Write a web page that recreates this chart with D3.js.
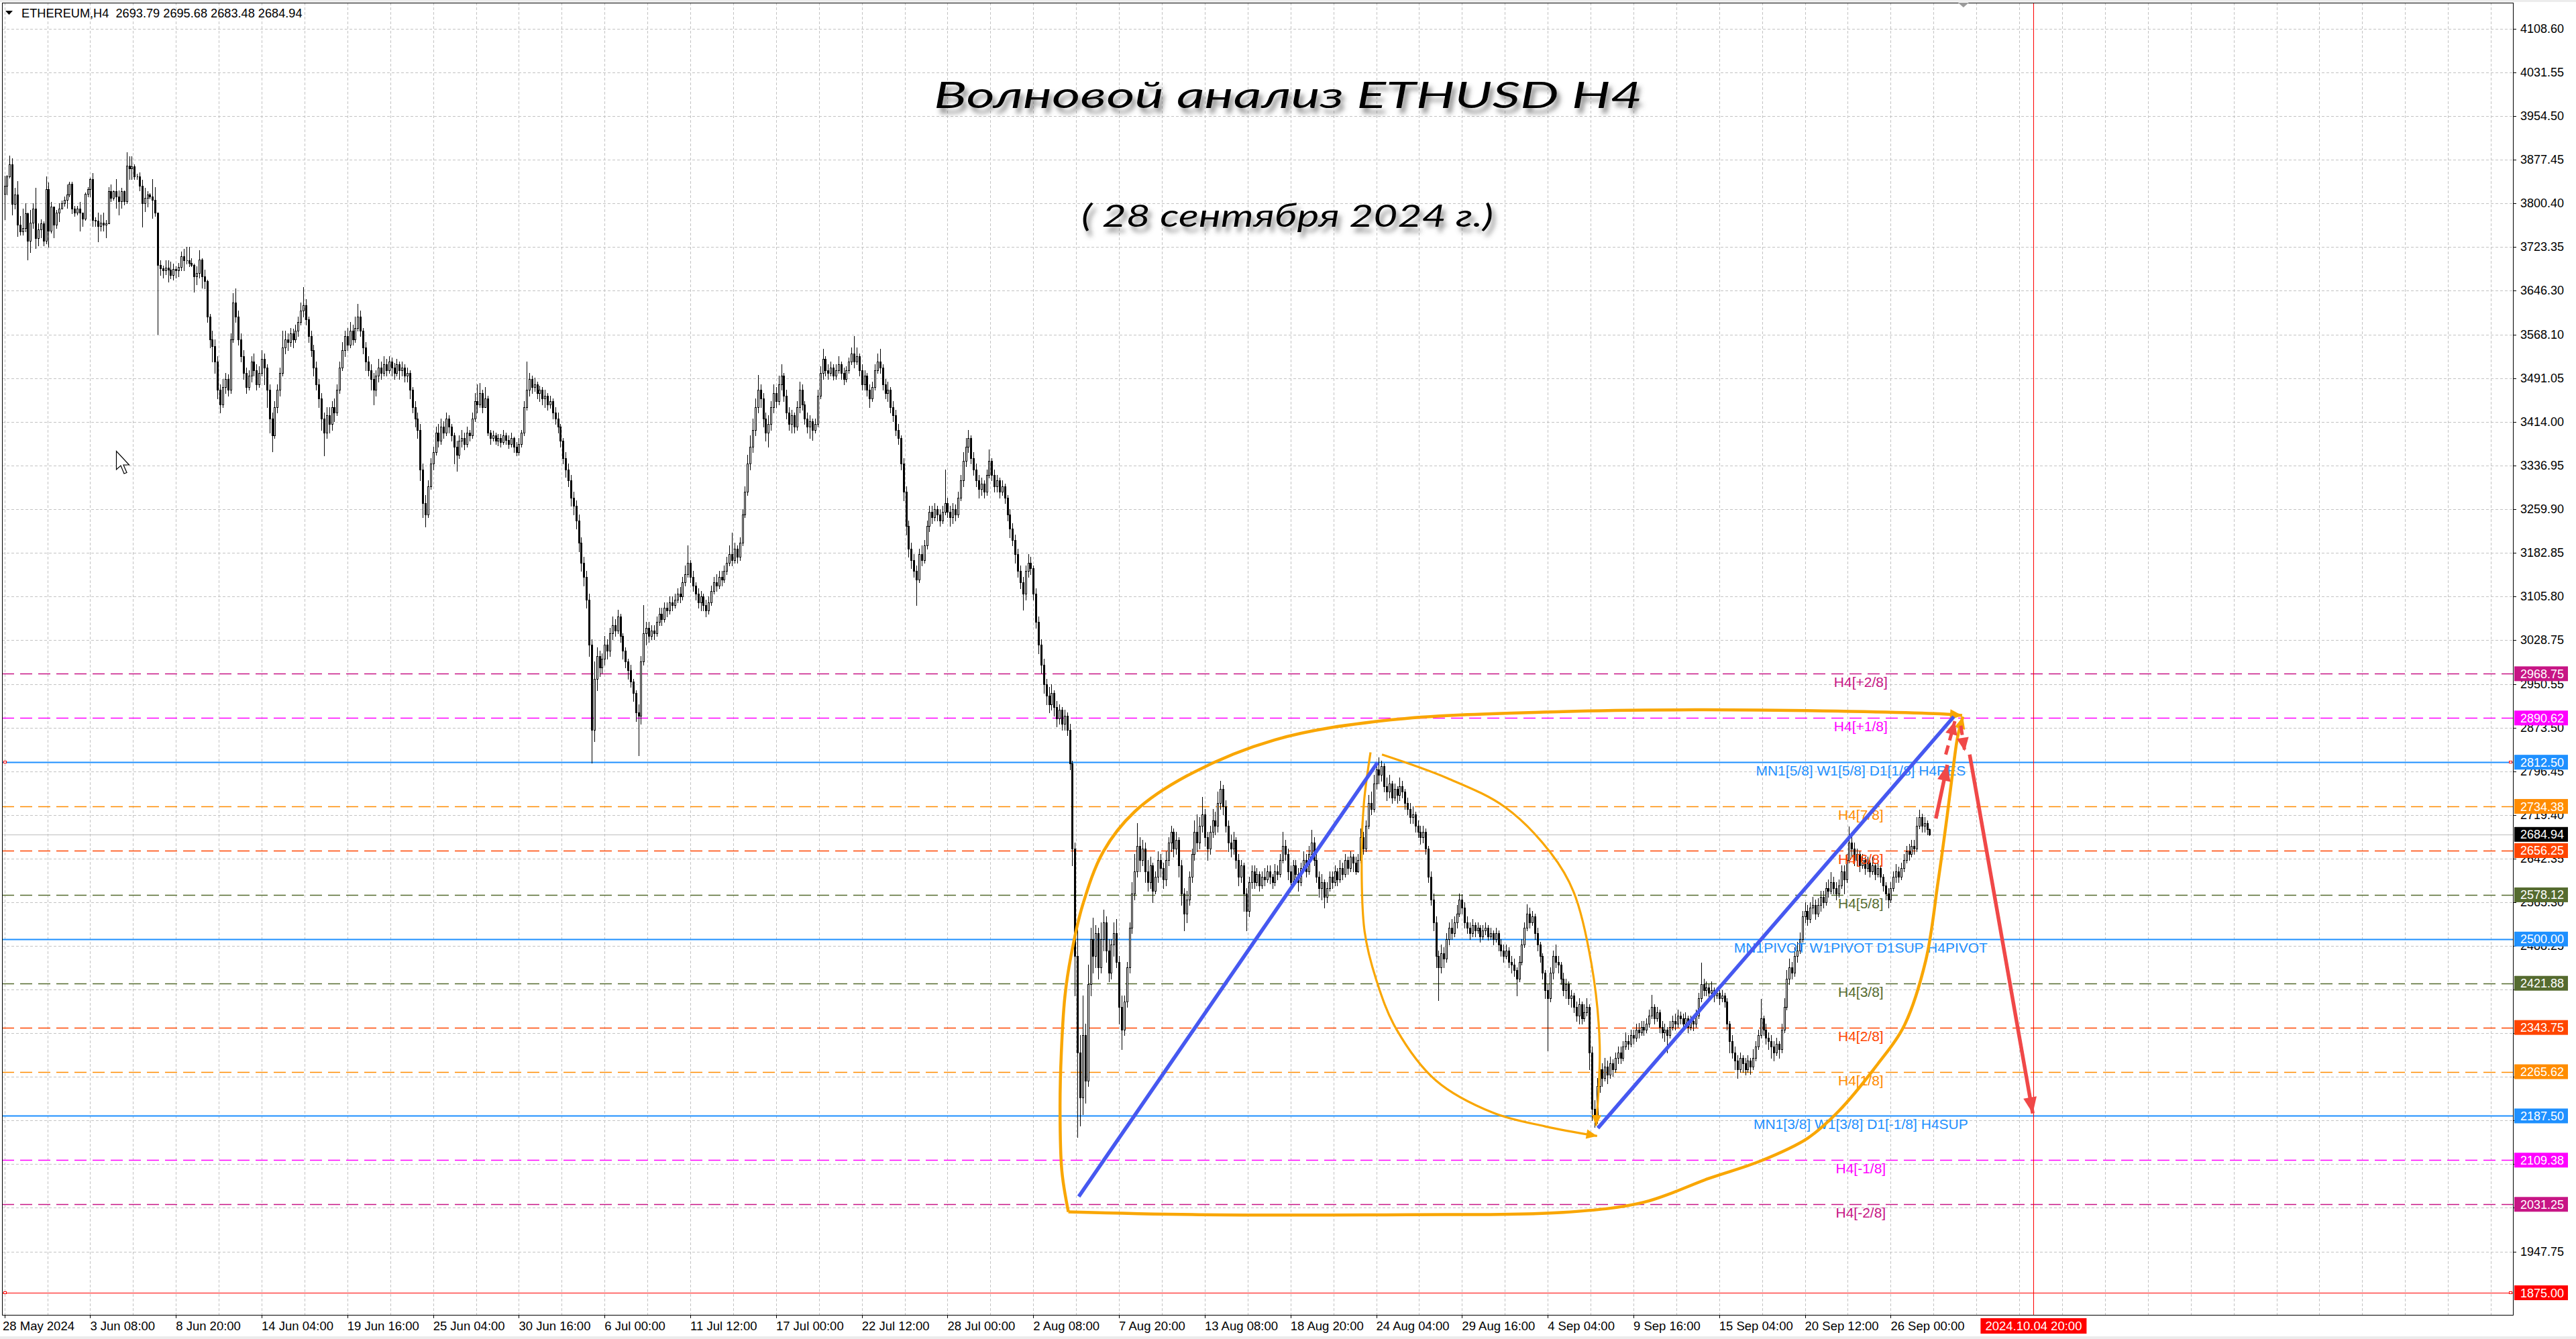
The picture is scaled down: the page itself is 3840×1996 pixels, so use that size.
<!DOCTYPE html>
<html><head><meta charset="utf-8">
<script src="https://cdn.jsdelivr.net/npm/d3@7"></script>
<style>
html,body{margin:0;padding:0;background:#fff;}
svg{display:block;}
</style></head><body>
<svg id="c" width="3840" height="1996"></svg>
<script>
// ---------------- DATA (H4 bars) ----------------
const firstOpen = 3817;
const closes = [
3831,3847,3869,3799,3815,3762,3750,3756,3782,3734,
3766,3790,3738,3754,3764,3734,3825,3752,3794,3762,
3784,3790,3800,3806,3815,3834,3791,3784,3790,3784,
3773,3817,3825,3843,3770,3769,3760,3766,3762,3765,
3821,3810,3821,3812,3804,3821,3804,3866,3862,3865,
3848,3847,3831,3800,3810,3816,3812,3806,3784,3691,
3685,3681,3686,3683,3673,3684,3681,3687,3707,3699,
3699,3695,3691,3671,3677,3700,3671,3663,3600,3560,
3548,3520,3470,3445,3475,3490,3470,3560,3625,3600,
3560,3530,3500,3475,3495,3520,3505,3480,3500,3525,
3510,3470,3420,3390,3440,3470,3500,3545,3560,3555,
3570,3560,3575,3590,3610,3620,3595,3565,3540,3510,
3480,3455,3420,3395,3425,3410,3440,3430,3470,3510,
3540,3565,3550,3575,3560,3580,3600,3575,3545,3520,
3505,3490,3470,3495,3510,3500,3515,3505,3520,3510,
3500,3515,3505,3510,3495,3500,3470,3440,3420,3400,
3330,3270,3250,3300,3340,3360,3395,3380,3405,3395,
3420,3405,3390,3370,3355,3380,3385,3375,3395,3390,
3420,3450,3445,3465,3440,3455,3395,3385,3390,3380,
3385,3378,3390,3382,3375,3385,3370,3360,3375,3395,
3440,3470,3490,3475,3480,3465,3470,3455,3460,3445,
3450,3430,3420,3405,3380,3350,3330,3310,3280,3265,
3240,3200,3165,3140,3100,3020,2870,2960,3000,2980,
2995,3020,3010,3040,3055,3045,3070,3035,3010,2990,
2975,2955,2935,2900,2895,2990,3040,3050,3035,3045,
3040,3060,3075,3065,3085,3080,3095,3090,3100,3110,
3105,3130,3145,3165,3140,3125,3110,3095,3105,3090,
3080,3095,3115,3130,3125,3140,3135,3150,3165,3180,
3170,3190,3175,3200,3250,3290,3340,3370,3400,3440,
3470,3455,3420,3395,3410,3440,3465,3450,3480,3495,
3460,3430,3410,3425,3405,3440,3470,3445,3420,3405,
3415,3400,3410,3460,3500,3525,3505,3500,3510,3495,
3505,3515,3500,3490,3505,3520,3535,3520,3530,3505,
3480,3495,3470,3455,3475,3505,3520,3510,3480,3465,
3470,3440,3425,3400,3385,3340,3290,3230,3190,3170,
3150,3135,3180,3170,3195,3230,3255,3245,3260,3250,
3240,3255,3270,3255,3245,3260,3250,3280,3310,3345,
3370,3385,3350,3330,3310,3295,3305,3290,3320,3345,
3320,3300,3310,3290,3300,3280,3250,3225,3205,3180,
3150,3130,3110,3150,3165,3155,3110,3060,3020,2985,
2950,2930,2915,2935,2910,2890,2905,2880,2895,2870,
2810,2660,2470,2300,2220,2330,2250,2420,2500,2470,
2510,2450,2500,2530,2480,2440,2490,2510,2460,2380,
2340,2390,2450,2520,2580,2620,2665,2640,2660,2620,
2600,2630,2585,2610,2640,2625,2605,2640,2670,2690,
2660,2675,2630,2580,2545,2570,2610,2650,2690,2670,
2700,2720,2680,2660,2690,2710,2700,2740,2765,2735,
2700,2670,2660,2675,2640,2610,2630,2580,2550,2600,
2620,2600,2615,2595,2610,2605,2620,2610,2600,2620,
2615,2640,2665,2650,2620,2600,2630,2615,2600,2625,
2640,2620,2650,2670,2640,2610,2590,2600,2575,2590,
2610,2600,2620,2605,2625,2615,2640,2625,2645,2635,
2620,2640,2680,2660,2700,2740,2730,2775,2800,2790,
2805,2770,2760,2775,2750,2765,2755,2770,2760,2740,
2730,2715,2720,2700,2690,2680,2690,2660,2610,2570,
2530,2470,2450,2475,2465,2500,2520,2510,2530,2545,
2570,2555,2530,2520,2510,2525,2515,2520,2505,2515,
2520,2505,2510,2500,2510,2490,2480,2470,2480,2460,
2455,2445,2430,2460,2490,2520,2545,2530,2540,2510,
2490,2470,2440,2410,2395,2440,2470,2460,2455,2430,
2410,2420,2395,2400,2380,2365,2385,2360,2370,2380,
2300,2200,2185,2240,2270,2255,2275,2260,2280,2270,
2290,2300,2290,2310,2320,2315,2330,2325,2340,2335,
2345,2340,2350,2365,2380,2360,2370,2345,2335,2340,
2330,2345,2355,2350,2365,2360,2350,2360,2345,2355,
2350,2365,2395,2420,2410,2415,2405,2410,2400,2405,
2395,2400,2390,2350,2320,2300,2285,2270,2290,2280,
2270,2285,2275,2290,2310,2330,2360,2340,2325,2320,
2310,2300,2315,2305,2340,2380,2430,2450,2440,2470,
2480,2500,2540,2550,2535,2555,2560,2545,2560,2575,
2565,2590,2585,2600,2590,2580,2595,2620,2605,2640,
2670,2660,2640,2650,2630,2640,2625,2635,2620,2630,
2615,2625,2610,2595,2580,2570,2590,2610,2620,2610,
2625,2640,2655,2650,2665,2660,2700,2715,2700,2705,
2693.79,2684.94];
const highs = [
3849,3850,3884,3879,3827,3839,3778,3790,3800,3784,
3788,3800,3827,3764,3772,3768,3847,3837,3802,3790,
3788,3800,3805,3812,3833,3838,3838,3795,3795,3803,
3784,3819,3829,3845,3853,3775,3784,3780,3784,3770,
3829,3833,3823,3843,3823,3827,3823,3890,3883,3883,
3869,3852,3855,3841,3827,3821,3818,3843,3829,3784,
3699,3690,3699,3699,3697,3693,3689,3695,3715,3719,
3723,3723,3703,3693,3689,3717,3703,3683,3665,3605,
3575,3560,3530,3480,3490,3500,3498,3570,3641,3650,
3610,3570,3540,3510,3505,3530,3535,3515,3512,3540,
3535,3515,3480,3430,3450,3480,3510,3575,3575,3570,
3580,3578,3585,3600,3625,3652,3630,3600,3575,3550,
3520,3490,3465,3430,3440,3440,3450,3455,3480,3520,
3555,3575,3580,3590,3585,3600,3622,3610,3580,3555,
3530,3515,3500,3505,3525,3520,3530,3525,3530,3528,
3518,3525,3520,3520,3515,3510,3505,3475,3450,3430,
3410,3340,3285,3310,3350,3370,3405,3410,3420,3415,
3430,3425,3410,3395,3380,3390,3400,3395,3405,3400,
3430,3465,3480,3482,3470,3475,3460,3400,3398,3395,
3392,3392,3400,3395,3390,3395,3388,3378,3385,3400,
3450,3520,3500,3495,3492,3485,3478,3475,3470,3465,
3460,3455,3440,3430,3410,3385,3360,3340,3320,3290,
3275,3250,3210,3175,3150,3110,3030,2990,3015,3010,
3005,3035,3030,3050,3070,3065,3082,3075,3040,3015,
2995,2985,2960,2940,2915,3000,3090,3060,3060,3055,
3055,3070,3085,3085,3095,3095,3105,3105,3110,3120,
3122,3140,3160,3195,3170,3150,3130,3120,3115,3110,
3100,3105,3125,3140,3145,3150,3150,3160,3175,3195,
3218,3200,3195,3210,3260,3300,3355,3390,3420,3455,
3497,3480,3465,3430,3425,3450,3480,3475,3495,3516,
3500,3470,3440,3435,3430,3450,3485,3480,3450,3430,
3425,3420,3420,3470,3512,3543,3530,3515,3520,3515,
3515,3530,3520,3510,3512,3528,3545,3565,3545,3535,
3515,3505,3500,3480,3485,3515,3535,3543,3515,3490,
3485,3475,3450,3435,3410,3390,3350,3300,3240,3200,
3180,3160,3190,3195,3205,3240,3265,3265,3270,3265,
3260,3265,3330,3280,3265,3270,3268,3290,3320,3360,
3385,3400,3390,3360,3340,3320,3315,3310,3330,3365,
3350,3330,3320,3315,3310,3305,3285,3260,3235,3215,
3190,3160,3140,3160,3180,3175,3160,3120,3070,3030,
2995,2960,2945,2950,2940,2920,2915,2910,2905,2900,
2880,2815,2670,2520,2330,2400,2350,2455,2520,2538,
2525,2520,2530,2552,2540,2500,2500,2530,2535,2470,
2400,2400,2460,2530,2600,2650,2705,2680,2675,2670,
2640,2645,2635,2620,2655,2650,2635,2655,2680,2700,
2695,2690,2680,2640,2590,2585,2620,2660,2710,2720,
2715,2751,2730,2690,2700,2730,2725,2760,2780,2772,
2745,2710,2685,2690,2680,2650,2640,2635,2590,2610,
2630,2630,2625,2620,2620,2625,2630,2630,2615,2632,
2630,2650,2690,2675,2660,2630,2640,2640,2625,2635,
2655,2650,2665,2693,2680,2650,2620,2615,2605,2600,
2620,2620,2630,2625,2640,2635,2650,2645,2655,2650,
2645,2650,2695,2690,2710,2755,2760,2790,2812,2821,
2815,2810,2785,2790,2780,2775,2770,2785,2780,2765,
2750,2740,2735,2725,2710,2700,2700,2695,2665,2620,
2580,2540,2480,2490,2485,2510,2530,2535,2540,2560,
2580,2579,2565,2540,2530,2535,2530,2530,2525,2525,
2530,2525,2520,2515,2520,2515,2500,2490,2490,2485,
2470,2465,2450,2470,2500,2530,2561,2555,2550,2545,
2520,2495,2475,2445,2420,2450,2480,2490,2470,2460,
2440,2430,2425,2410,2405,2390,2395,2390,2385,2395,
2385,2310,2215,2255,2290,2280,2290,2285,2292,2288,
2300,2310,2310,2320,2335,2330,2340,2340,2350,2352,
2355,2355,2360,2375,2401,2385,2380,2375,2355,2350,
2345,2355,2365,2368,2375,2372,2368,2370,2365,2365,
2362,2375,2405,2458,2430,2425,2420,2425,2415,2415,
2410,2410,2405,2395,2355,2330,2310,2295,2300,2295,
2290,2295,2290,2305,2320,2340,2394,2365,2350,2335,
2330,2320,2325,2320,2350,2395,2445,2465,2460,2485,
2495,2512,2550,2565,2560,2565,2575,2570,2572,2585,
2585,2600,2605,2618,2610,2600,2605,2630,2630,2650,
2699,2685,2670,2660,2655,2650,2645,2645,2640,2645,
2635,2635,2630,2615,2600,2590,2600,2620,2632,2628,
2635,2650,2665,2668,2675,2675,2715,2728,2722,2715,
2710,2695.68];
const lows = [
3772,3815,3845,3780,3790,3742,3744,3744,3750,3701,
3713,3756,3721,3725,3740,3725,3729,3723,3748,3740,
3756,3768,3790,3795,3792,3812,3782,3778,3780,3752,
3760,3770,3812,3812,3760,3760,3733,3752,3752,3740,
3764,3804,3806,3792,3780,3792,3798,3800,3843,3843,
3843,3843,3823,3758,3786,3794,3808,3774,3778,3569,
3673,3669,3675,3661,3667,3665,3669,3671,3681,3681,
3693,3689,3689,3644,3657,3669,3651,3649,3590,3545,
3520,3500,3455,3430,3440,3465,3460,3465,3555,3590,
3550,3520,3490,3465,3470,3485,3495,3470,3475,3495,
3480,3440,3395,3362,3385,3430,3460,3495,3535,3540,
3548,3545,3555,3565,3585,3600,3585,3555,3530,3495,
3470,3440,3400,3354,3385,3395,3400,3415,3425,3465,
3505,3530,3540,3545,3550,3555,3575,3565,3535,3505,
3495,3470,3444,3460,3485,3490,3495,3495,3500,3495,
3490,3495,3490,3495,3485,3485,3455,3430,3405,3385,
3310,3245,3229,3245,3295,3330,3355,3370,3375,3385,
3390,3395,3380,3340,3327,3350,3370,3365,3370,3380,
3385,3415,3430,3440,3430,3440,3390,3375,3380,3375,
3372,3370,3375,3375,3368,3370,3360,3354,3355,3370,
3390,3435,3460,3465,3468,3455,3450,3445,3440,3435,
3438,3420,3410,3395,3370,3340,3316,3300,3265,3250,
3225,3185,3150,3125,3085,3000,2812,2850,2940,2965,
2970,2985,2995,3000,3030,3035,3040,3025,2995,2980,
2960,2945,2920,2885,2825,2880,2985,3020,3025,3030,
3030,3035,3055,3055,3060,3070,3075,3080,3085,3095,
3095,3100,3125,3140,3130,3115,3100,3085,3080,3080,
3070,3075,3090,3110,3115,3120,3125,3130,3145,3160,
3160,3165,3165,3170,3195,3245,3285,3330,3360,3390,
3430,3440,3405,3380,3370,3400,3430,3440,3445,3470,
3450,3420,3400,3395,3395,3400,3430,3435,3410,3395,
3385,3382,3395,3405,3455,3490,3495,3490,3495,3488,
3490,3500,3490,3480,3485,3500,3515,3510,3515,3495,
3470,3470,3460,3440,3450,3470,3500,3500,3470,3455,
3450,3430,3415,3390,3375,3330,3275,3215,3175,3155,
3140,3090,3130,3160,3165,3190,3220,3235,3240,3240,
3230,3235,3250,3245,3230,3235,3240,3245,3275,3300,
3335,3360,3340,3320,3300,3280,3285,3280,3285,3315,
3310,3290,3290,3280,3285,3270,3240,3210,3195,3165,
3140,3120,3082,3100,3140,3145,3100,3050,3005,2970,
2935,2915,2900,2905,2895,2875,2880,2870,2870,2860,
2800,2630,2400,2150,2170,2190,2210,2240,2400,2440,
2450,2430,2440,2480,2460,2425,2430,2470,2450,2350,
2305,2330,2380,2440,2510,2570,2610,2620,2630,2600,
2585,2590,2565,2580,2600,2610,2590,2595,2630,2655,
2645,2650,2610,2560,2515,2530,2560,2600,2640,2655,
2660,2690,2665,2640,2650,2680,2685,2690,2730,2720,
2690,2655,2645,2650,2625,2595,2600,2550,2515,2540,
2590,2590,2595,2585,2590,2595,2600,2598,2590,2595,
2605,2610,2635,2640,2605,2590,2595,2600,2585,2595,
2620,2610,2615,2645,2630,2600,2575,2570,2555,2565,
2585,2590,2595,2595,2600,2605,2610,2615,2620,2620,
2615,2618,2635,2650,2655,2695,2720,2725,2765,2775,
2780,2760,2745,2750,2740,2745,2740,2745,2750,2730,
2720,2705,2705,2690,2680,2668,2670,2650,2600,2560,
2515,2450,2392,2440,2450,2460,2490,2500,2505,2520,
2540,2545,2520,2510,2500,2505,2505,2510,2495,2500,
2508,2498,2500,2490,2495,2480,2470,2460,2465,2450,
2440,2435,2400,2425,2455,2485,2515,2520,2525,2500,
2480,2460,2430,2395,2303,2390,2430,2450,2440,2420,
2400,2395,2385,2380,2370,2355,2350,2350,2355,2365,
2270,2180,2168,2175,2230,2240,2250,2245,2255,2258,
2265,2280,2280,2285,2305,2305,2310,2315,2320,2325,
2330,2330,2335,2345,2360,2350,2355,2335,2325,2320,
2300,2325,2340,2340,2345,2350,2340,2345,2335,2340,
2338,2345,2360,2390,2400,2400,2395,2400,2390,2395,
2385,2390,2380,2340,2300,2290,2270,2254,2265,2265,
2260,2265,2262,2270,2285,2305,2325,2330,2315,2305,
2290,2285,2295,2290,2300,2335,2375,2420,2430,2435,
2460,2475,2495,2530,2525,2530,2545,2535,2540,2550,
2555,2560,2575,2580,2580,2570,2575,2590,2580,2600,
2635,2645,2630,2630,2620,2625,2615,2620,2610,2615,
2605,2610,2600,2585,2570,2555,2565,2585,2600,2600,
2605,2620,2635,2640,2645,2650,2655,2695,2690,2690,
2685,2683.48];

const priceTicks = [4108.60,4031.55,3954.50,3877.45,3800.40,3723.35,3646.30,3568.10,3491.05,3414.00,
  3336.95,3259.90,3182.85,3105.80,3028.75,2950.55,2873.50,2796.45,2719.40,2642.35,2565.30,2488.25,
  2411.20,2334.15,2257.10,2180.05,2103.00,2025.95,1947.75];
// tick labels that MT4 leaves hidden behind the coloured level boxes
const tickHidden = [2411.20,2334.15,2257.10,2180.05,2103.00,2025.95];
const timeLabels = ["28 May 2024","3 Jun 08:00","8 Jun 20:00","14 Jun 04:00","19 Jun 16:00","25 Jun 04:00",
  "30 Jun 16:00","6 Jul 00:00","11 Jul 12:00","17 Jul 00:00","22 Jul 12:00","28 Jul 00:00","2 Aug 08:00",
  "7 Aug 20:00","13 Aug 08:00","18 Aug 20:00","24 Aug 04:00","29 Aug 16:00","4 Sep 04:00","9 Sep 16:00",
  "15 Sep 04:00","20 Sep 12:00","26 Sep 00:00"];
const barsPerLabel = 33;

const levelPrices = [2968.75,2890.62,2812.50,2734.38,2656.25,2578.12,2500.00,2421.88,2343.75,2265.62,2187.50,2109.38,2031.25];
const levelNames  = ["H4[+2/8]","H4[+1/8]","MN1[5/8] W1[5/8] D1[1/8] H4RES","H4[7/8]","H4[6/8]","H4[5/8]",
  "MN1PIVOT W1PIVOT D1SUP H4PIVOT","H4[3/8]","H4[2/8]","H4[1/8]","MN1[3/8] W1[3/8] D1[-1/8] H4SUP","H4[-1/8]","H4[-2/8]"];
const levelColors = ["#C71585","#FF00FF","#1E90FF","#FF8C00","#FF4500","#556B2F","#1E90FF","#556B2F","#FF4500","#FF8C00","#1E90FF","#FF00FF","#C71585"];
const levelSolid  = [false,false,true,false,false,false,true,false,false,false,true,false,false];
const stopPrice = 1875.00;
const lastPrice = 2684.94;
const markerBar = 781, markerLabel = "2024.10.04 20:00";
const headerText = "ETHEREUM,H4  2693.79 2695.68 2683.48 2684.94";
const titleText = "Волновой анализ ETHUSD H4";
const subtitleText = "( 28 сентября 2024 г.)";

// annotation paths as [bar, price]
const outerTop = [[409.5,2018],[407,2090],[406.3,2200],[406.8,2300],[408.2,2400],[410.5,2470],[415,2560],[423,2655],[435,2725],[455,2788],[489,2852],[533,2887],[600,2902],[644,2905],[700,2903],[745,2898],[753.5,2895]];
const outerBottom = [[409.5,2018],[460,2013],[540,2013],[600,2017],[631,2035],[656,2077],[676,2108],[694,2148],[706,2196],[721,2279],[731,2345],[739.5,2462],[744.2,2600],[747.8,2720],[750,2800],[751.8,2858],[753.8,2893]];
const innerLeft = [[525.8,2830],[523.3,2743],[522.4,2658],[523.5,2514],[528,2428],[535.6,2342],[551,2250],[573,2193],[593,2169],[613,2152]];
const innerRight = [[530.2,2826],[555.5,2784],[577.6,2733],[595.2,2652],[604,2583],[610.8,2457],[614,2313],[612.6,2170]];
const blueLines = [[[413.5,2045],[528.5,2812]], [[613.3,2166],[750.3,2893]]];
const redSolid = [[[743.4,2713],[747.8,2808]], [[756.4,2826],[780.7,2192]]];
const redDashed = [[[747.2,2826],[750.7,2885]], [[753,2877],[754.5,2832]]];

// ---------------- DRAW ----------------
const W = 3840, H = 1996;
const L = 3, T = 4, R = 3746, B = 1960;
const x = d3.scaleLinear().domain([0, 741]).range([6.6, 6.6 + 741 * 3.873]);
const y = d3.scaleLinear().domain([1875, 4108.6]).range([1927.1, 42.7]);
const FONT = "'Liberation Sans', Arial, sans-serif";
const svg = d3.select('#c');

svg.append('rect').attr('width', W).attr('height', H).attr('fill', '#fff');
svg.append('rect').attr('x', 0).attr('y', 0).attr('width', W).attr('height', 3).attr('fill', '#ececec');
svg.append('rect').attr('x', 0).attr('y', 1992).attr('width', W).attr('height', 4).attr('fill', '#ececec');

const defs = svg.append('defs');
defs.append('clipPath').attr('id', 'plot').append('rect')
  .attr('x', L).attr('y', T).attr('width', R - L).attr('height', B - T);
const flt = defs.append('filter').attr('id', 'shadow')
  .attr('x', '-5%').attr('y', '-40%').attr('width', '115%').attr('height', '190%');
flt.append('feDropShadow').attr('dx', 5).attr('dy', 8).attr('stdDeviation', 3.5)
  .attr('flood-color', '#555').attr('flood-opacity', 0.65);

const g = svg.append('g').attr('clip-path', 'url(#plot)');
const cr = v => Math.round(v) + 0.5;

// grid
g.append('g').selectAll('line').data(priceTicks).join('line')
  .attr('x1', L).attr('x2', R).attr('y1', d => cr(y(d))).attr('y2', d => cr(y(d)))
  .attr('stroke', '#c3c3c3').attr('stroke-width', 1).attr('stroke-dasharray', '4,3');
const gridBars = d3.range(0, 1000, barsPerLabel / 2).filter(b => x(b) < R - 2);
g.append('g').selectAll('line').data(gridBars).join('line')
  .attr('x1', d => cr(x(d))).attr('x2', d => cr(x(d))).attr('y1', T).attr('y2', B)
  .attr('stroke', '#c3c3c3').attr('stroke-width', 1).attr('stroke-dasharray', '4,3');

// level lines
levelPrices.forEach((p, i) => {
  g.append('line').attr('x1', L).attr('x2', R).attr('y1', cr(y(p))).attr('y2', cr(y(p)))
    .attr('stroke', levelColors[i]).attr('stroke-width', levelSolid[i] ? 2 : 1.3)
    .attr('stroke-dasharray', levelSolid[i] ? null : '18,9');
});
g.append('line').attr('x1', L).attr('x2', R).attr('y1', cr(y(stopPrice))).attr('y2', cr(y(stopPrice)))
  .attr('stroke', '#FF0000').attr('stroke-width', 1);
g.append('line').attr('x1', L).attr('x2', R).attr('y1', cr(y(lastPrice))).attr('y2', cr(y(lastPrice)))
  .attr('stroke', '#bdbdbd').attr('stroke-width', 1);
// vertical marker line
g.append('line').attr('x1', cr(x(markerBar))).attr('x2', cr(x(markerBar))).attr('y1', T).attr('y2', B)
  .attr('stroke', '#FF0000').attr('stroke-width', 1);

// title
g.append('text').attr('x', 1920).attr('y', 161).attr('text-anchor', 'middle')
  .attr('font-family', "Lato, 'Open Sans', sans-serif").attr('font-style', 'italic').attr('font-size', 55)
  .attr('textLength', 1056).attr('lengthAdjust', 'spacingAndGlyphs')
  .attr('fill', '#000').attr('filter', 'url(#shadow)').text(titleText);
g.append('text').attr('x', 1919).attr('y', 338).attr('text-anchor', 'middle')
  .attr('font-family', "Lato, 'Open Sans', sans-serif").attr('font-style', 'italic').attr('font-size', 46)
  .attr('textLength', 614).attr('lengthAdjust', 'spacingAndGlyphs')
  .attr('fill', '#000').attr('filter', 'url(#shadow)').text(subtitleText);

// candles
const n = Math.min(closes.length, highs.length, lows.length);
const bars = d3.range(n).map(i => {
  const o = i === 0 ? firstOpen : closes[i - 1];
  const c = closes[i];
  return { i, o, c, h: Math.max(highs[i], o, c), l: Math.min(lows[i], o, c) };
});
const cg = g.append('g').attr('shape-rendering', 'crispEdges');
cg.selectAll('line').data(bars).join('line')
  .attr('x1', d => cr(x(d.i))).attr('x2', d => cr(x(d.i)))
  .attr('y1', d => Math.round(y(d.h))).attr('y2', d => Math.round(y(d.l)) + 1)
  .attr('stroke', '#000').attr('stroke-width', 1);
cg.selectAll('path').data(bars).join('path')
  .attr('d', d => {
    const cx = Math.round(x(d.i));
    const top = Math.round(y(Math.max(d.o, d.c))) + 0.5;
    const bot = Math.round(y(Math.min(d.o, d.c))) + 0.5;
    return `M${cx - 1 + 0.5},${top}H${cx + 1 + 0.5}V${bot}H${cx - 1 + 0.5}Z`;
  })
  .attr('fill', d => d.c >= d.o ? '#fff' : '#000').attr('stroke', '#000').attr('stroke-width', 1);

// level labels (text on chart)
levelPrices.forEach((p, i) => {
  g.append('text').attr('x', x(714.5)).attr('y', y(p) + 20).attr('text-anchor', 'middle')
    .attr('font-family', FONT).attr('font-size', 21).attr('fill', levelColors[i]).text(levelNames[i]);
});

// annotations
const px = d => [x(d[0]), y(d[1])];
const smooth = d3.line().x(d => x(d[0])).y(d => y(d[1])).curve(d3.curveCatmullRom.alpha(0.5));
function arrowHead(sel, pts, len, half, color) {
  const a = px(pts[pts.length - 2]), b = px(pts[pts.length - 1]);
  const dx = b[0] - a[0], dy = b[1] - a[1], m = Math.hypot(dx, dy) || 1;
  const ux = dx / m, uy = dy / m;
  const bx = b[0] - ux * len, by = b[1] - uy * len;
  sel.append('path').attr('d', `M${b[0]},${b[1]}L${bx - uy * half},${by + ux * half}L${bx + uy * half},${by - ux * half}Z`)
    .attr('fill', color);
}
const ORANGE = '#F9A602', BLUE = '#4658F0', RED = '#F04848';
const an = g.append('g');
[outerTop, outerBottom].forEach(p => {
  an.append('path').attr('d', smooth(p)).attr('fill', 'none').attr('stroke', ORANGE).attr('stroke-width', 4.5);
  arrowHead(an, p.slice(-2), 18, 8, ORANGE);
});
[innerLeft, innerRight].forEach(p => {
  an.append('path').attr('d', smooth(p)).attr('fill', 'none').attr('stroke', ORANGE).attr('stroke-width', 3.2);
  arrowHead(an, p.slice(-2), 16, 7, ORANGE);
});
blueLines.forEach(p => {
  an.append('path').attr('d', d3.line().x(d => x(d[0])).y(d => y(d[1]))(p))
    .attr('stroke', BLUE).attr('stroke-width', 5.5).attr('fill', 'none');
});
redSolid.forEach(p => {
  an.append('path').attr('d', d3.line().x(d => x(d[0])).y(d => y(d[1]))(p))
    .attr('stroke', RED).attr('stroke-width', 5.5).attr('fill', 'none');
  arrowHead(an, p, 24, 10, RED);
});
redDashed.forEach(p => {
  an.append('path').attr('d', d3.line().x(d => x(d[0])).y(d => y(d[1]))(p))
    .attr('stroke', RED).attr('stroke-width', 5).attr('stroke-dasharray', '14,8').attr('fill', 'none');
  arrowHead(an, p, 20, 9, RED);
});

// small red anchors on solid lines
[2812.50, stopPrice].forEach(p => {
  [L + 2, R - 6].forEach(xx => {
    svg.append('rect').attr('x', xx + 0.5).attr('y', Math.round(y(p)) - 1.5).attr('width', 4).attr('height', 3)
      .attr('fill', '#fff').attr('stroke', '#FF0000').attr('stroke-width', 1);
  });
});

// frame
svg.append('rect').attr('x', L + 0.5).attr('y', T + 0.5).attr('width', R - L).attr('height', B - T)
  .attr('fill', 'none').attr('stroke', '#000').attr('stroke-width', 1);

// price axis
const ax = svg.append('g');
ax.selectAll('line').data(priceTicks).join('line')
  .attr('x1', R).attr('x2', R + 5).attr('y1', d => cr(y(d))).attr('y2', d => cr(y(d)))
  .attr('stroke', '#000');
ax.selectAll('text').data(priceTicks.filter(d => !tickHidden.includes(d))).join('text')
  .attr('x', 3757).attr('y', d => y(d) + 6.5)
  .attr('font-family', FONT).attr('font-size', 18).attr('fill', '#000')
  .text(d => d.toFixed(2));
// coloured price boxes
const boxPrices = levelPrices.concat([lastPrice, stopPrice]);
const boxColors = levelColors.concat(['#000000', '#FF0000']);
boxPrices.forEach((p, i) => {
  ax.append('rect').attr('x', 3748).attr('y', y(p) - 11).attr('width', 80).attr('height', 22).attr('fill', boxColors[i]);
  ax.append('text').attr('x', 3757).attr('y', y(p) + 6.5)
    .attr('font-family', FONT).attr('font-size', 18).attr('fill', '#fff').text(p.toFixed(2));
});

// time axis
const tx = svg.append('g');
tx.selectAll('line').data(timeLabels).join('line')
  .attr('x1', (d, i) => cr(x(i * barsPerLabel))).attr('x2', (d, i) => cr(x(i * barsPerLabel)))
  .attr('y1', B).attr('y2', B + 5).attr('stroke', '#000');
tx.selectAll('text').data(timeLabels).join('text')
  .attr('x', (d, i) => i === 0 ? 4 : x(i * barsPerLabel))
  .attr('y', 1983).attr('font-family', FONT).attr('font-size', 18.5).attr('fill', '#000').text(d => d);
tx.append('rect').attr('x', x(markerBar) - 79).attr('y', 1965).attr('width', 158).attr('height', 23).attr('fill', '#FF0000');
tx.append('text').attr('x', x(markerBar)).attr('y', 1983).attr('text-anchor', 'middle')
  .attr('font-family', FONT).attr('font-size', 18.5).attr('fill', '#fff').text(markerLabel);

// header
svg.append('path').attr('d', 'M8,16L19,16L13.5,22Z').attr('fill', '#000');
svg.append('text').attr('x', 32).attr('y', 25.5).attr('font-family', FONT).attr('font-size', 18.2)
  .attr('fill', '#000').attr('xml:space', 'preserve').style('white-space', 'pre').text(headerText);

// chart-shift marker
svg.append('path').attr('d', `M${x(754) - 8},4L${x(754) + 8},4L${x(754)},11Z`).attr('fill', '#9a9a9a');

// mouse cursor
svg.append('path').attr('d', 'M173.5,672.5L173.5,700L180,694L185,706L189,704.5L184,693L192.5,693Z')
  .attr('fill', '#fff').attr('stroke', '#000').attr('stroke-width', 1.2);
</script>
</body></html>
